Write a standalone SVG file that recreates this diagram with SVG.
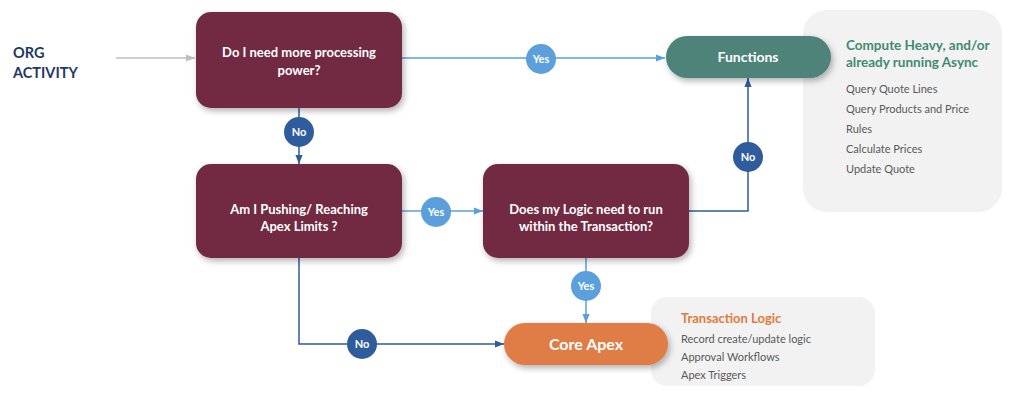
<svg xmlns="http://www.w3.org/2000/svg" width="1024" height="405" viewBox="0 0 1024 405">
<defs>
<filter id="sh" x="-10%" y="-10%" width="125%" height="135%">
<feDropShadow dx="2" dy="3" stdDeviation="3" flood-color="#000" flood-opacity="0.3"/>
</filter>
<marker id="aL" viewBox="0 0 10 10" refX="10" refY="5" markerWidth="6" markerHeight="6" orient="auto"><path d="M0,1 L10,5 L0,9 Z" fill="#5b9fdc"/></marker>
<marker id="aD" viewBox="0 0 10 10" refX="10" refY="5" markerWidth="6" markerHeight="6" orient="auto"><path d="M0,1 L10,5 L0,9 Z" fill="#2f5c9c"/></marker>
<marker id="aG" viewBox="0 0 10 10" refX="10" refY="5" markerWidth="6" markerHeight="6" orient="auto"><path d="M0,1 L10,5 L0,9 Z" fill="#bfbfbf"/></marker>
</defs>
<style>
text{font-family:Lato,"Open Sans","Liberation Sans",sans-serif}
.box{fill:#722943}
.bt{fill:#fff;font-weight:bold;font-size:13px;text-anchor:middle}
.lbl{fill:#fff;font-weight:bold;font-size:11px;text-anchor:middle}
.yes{fill:#5b9fdc}
.no{fill:#2f5c9c}
.lL{stroke:#5b9fdc;stroke-width:1.5;fill:none}
.lD{stroke:#2f5c9c;stroke-width:1.5;fill:none}
.panel{fill:#f2f2f2}
.it{fill:#595959;font-size:11px}
</style>
<g id="functions-notes">
<rect x="803" y="10" width="199" height="202" rx="24" class="panel"/>
<text x="846" y="50" fill="#3f8a73" font-weight="bold" font-size="13.5">Compute Heavy, and/or</text>
<text x="846" y="67" fill="#3f8a73" font-weight="bold" font-size="13.5">already running Async</text>
<text x="846" y="93" class="it">Query Quote Lines</text>
<text x="846" y="113" class="it">Query Products and Price</text>
<text x="846" y="133" class="it">Rules</text>
<text x="846" y="153" class="it">Calculate Prices</text>
<text x="846" y="173" class="it">Update Quote</text>
</g>
<g id="apex-notes">
<rect x="651" y="297" width="224" height="89" rx="16" class="panel"/>
<text x="681" y="323" fill="#e07b3c" font-weight="bold" font-size="13">Transaction Logic</text>
<text x="681" y="343" class="it">Record create/update logic</text>
<text x="681" y="361" class="it">Approval Workflows</text>
<text x="681" y="379" class="it">Apex Triggers</text>
</g>
<g id="org-activity">
<text x="13" y="58" fill="#1f3864" font-weight="bold" font-size="14.5">ORG</text>
<text x="13" y="78" fill="#1f3864" font-weight="bold" font-size="14.5">ACTIVITY</text>
</g>
<g id="connectors">
<line x1="116" y1="58" x2="195" y2="58" stroke="#bfbfbf" stroke-width="1.5" marker-end="url(#aG)"/>
<line x1="402" y1="58" x2="665" y2="58" class="lL" marker-end="url(#aL)"/>
<line x1="299" y1="108" x2="299" y2="164" class="lD" marker-end="url(#aD)"/>
<line x1="402" y1="211" x2="483" y2="211" class="lL" marker-end="url(#aL)"/>
<polyline points="689,211 748,211 748,78" class="lD" marker-end="url(#aD)"/>
<line x1="586" y1="258" x2="586" y2="323" class="lL" marker-end="url(#aL)"/>
<polyline points="299,258 299,344 504,344" class="lD" marker-end="url(#aD)"/>
<g id="lbl-yes1"><circle cx="541" cy="59" r="15" class="yes"/><text x="541" y="63" class="lbl">Yes</text></g>
<g id="lbl-no1"><circle cx="299" cy="132" r="15" class="no"/><text x="299" y="136" class="lbl">No</text></g>
<g id="lbl-yes2"><circle cx="436" cy="212" r="15" class="yes"/><text x="436" y="216" class="lbl">Yes</text></g>
<g id="lbl-no2"><circle cx="748" cy="157" r="15" class="no"/><text x="748" y="161" class="lbl">No</text></g>
<g id="lbl-yes3"><circle cx="586" cy="286" r="15" class="yes"/><text x="586" y="290" class="lbl">Yes</text></g>
<g id="lbl-no3"><circle cx="362" cy="344" r="15" class="no"/><text x="362" y="348" class="lbl">No</text></g>
</g>
<g id="q-processing">
<rect x="196" y="12" width="206" height="96" rx="15" class="box" filter="url(#sh)"/>
<text x="299" y="57" class="bt">Do I need more processing</text>
<text x="299" y="75" class="bt">power?</text>
</g>
<g id="q-limits">
<rect x="196" y="164" width="206" height="94" rx="15" class="box" filter="url(#sh)"/>
<text x="299" y="214" class="bt">Am I Pushing/ Reaching</text>
<text x="299" y="231" class="bt">Apex Limits ?</text>
</g>
<g id="q-transaction">
<rect x="483" y="164" width="206" height="94" rx="15" class="box" filter="url(#sh)"/>
<text x="586" y="214" class="bt">Does my Logic need to run</text>
<text x="586" y="231" class="bt">within the Transaction?</text>
</g>
<g id="functions">
<rect x="666" y="36" width="165" height="42" rx="21" fill="#4e8378" filter="url(#sh)"/>
<text x="748" y="62" fill="#fff" font-weight="bold" font-size="14" text-anchor="middle">Functions</text>
</g>
<g id="core-apex">
<rect x="504" y="323" width="164" height="42" rx="21" fill="#e07b45" filter="url(#sh)"/>
<text x="586" y="350" fill="#fff" font-weight="bold" font-size="16" text-anchor="middle">Core Apex</text>
</g>
</svg>
